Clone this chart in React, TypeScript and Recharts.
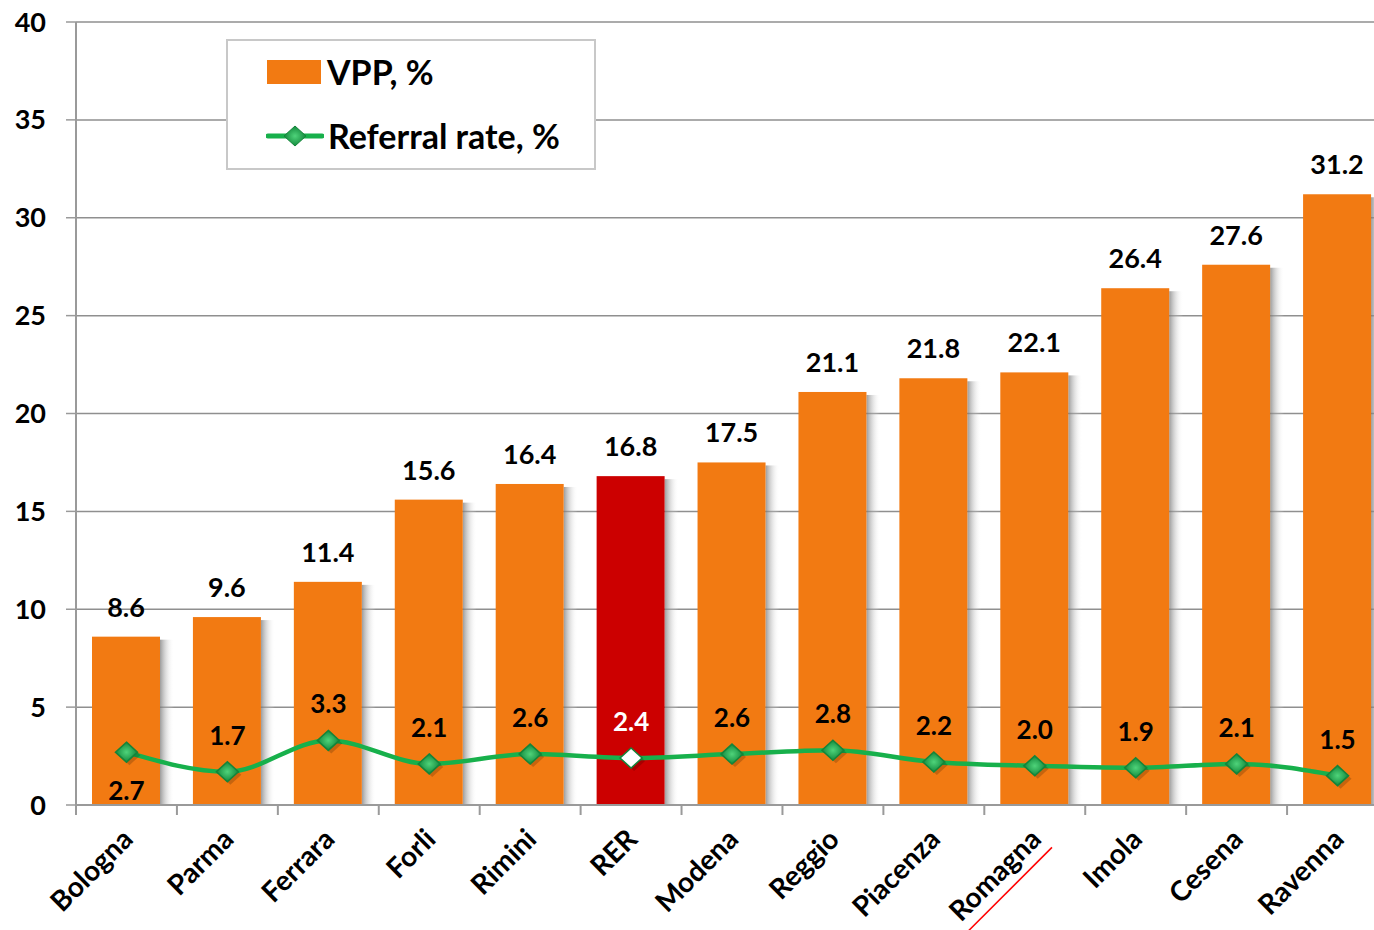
import React from 'react'
import { ComposedChart, Bar, Line, XAxis, YAxis, CartesianGrid, Legend, LabelList, Cell } from 'recharts'

const categories = ['Bologna', 'Parma', 'Ferrara', 'Forli', 'Rimini', 'RER', 'Modena', 'Reggio', 'Piacenza', 'Romagna', 'Imola', 'Cesena', 'Ravenna']
const vpp = [8.6, 9.6, 11.4, 15.6, 16.4, 16.8, 17.5, 21.1, 21.8, 22.1, 26.4, 27.6, 31.2]
const referral = [2.7, 1.7, 3.3, 2.1, 2.6, 2.4, 2.6, 2.8, 2.2, 2.0, 1.9, 2.1, 1.5]
const yTicks = [0, 5, 10, 15, 20, 25, 30, 35, 40]
const highlight = 'RER'

const data = categories.map((name, i) => ({ name, vpp: vpp[i], referral: referral[i] }))

// the original picture is cut off on the right, so the chart is a bit wider than the frame
const W = 1388
const VIEW_W = 1374
const H = 930
const LEFT = 76
const band = (W - LEFT) / categories.length
const FONT = 'Lato, "Open Sans", sans-serif'
const ORANGE = '#F27A12'
const RED = '#CC0000'
const GREEN = '#17B04B'

const XTick = (props: any) => {
  const { x, y, payload } = props
  return (
    <g transform={`translate(${x},${y})`}>
      <line x1={-band / 2} x2={-band / 2} y1={0} y2={10} stroke="#9a9a9a" strokeWidth={2} />
      <g transform="translate(8,36) rotate(-45)">
        <text textAnchor="end" fontFamily={FONT} fontWeight={700} fontSize={28} fill="#000">
          {payload.value}
        </text>
        {payload.value === 'Romagna' && <line x1={-135} x2={2} y1={11} y2={11} stroke="#ff0000" strokeWidth={1.5} />}
      </g>
    </g>
  )
}

const BarShape = (props: any) => {
  const { x, y, width, height, fill } = props
  return (
    <g>
      <rect x={x + width} y={y + 3} width={14} height={height - 3} fill="url(#barShadow)" />
      <rect x={x} y={y} width={width} height={height} fill={fill} />
    </g>
  )
}

const Diamond = ({ cx, cy, white }: { cx: number; cy: number; white?: boolean }) => (
  <g>
    <path d={`M${cx + 3},${cy - 7} l11,10 l-11,10 l-11,-10 z`} fill="#000" opacity={0.18} />
    <path d={`M${cx},${cy - 10} l11,10 l-11,10 l-11,-10 z`} fill={white ? '#ffffff' : 'url(#diamondFill)'} stroke="#14843a" strokeWidth={1.5} />
  </g>
)

const Dot = (props: any) => {
  const { cx, cy, payload } = props
  if (cx == null || cy == null) return null
  return <Diamond key={payload.name} cx={cx} cy={cy} white={payload.name === highlight} />
}

const LineLabel = (props: any) => {
  const { x, y, value, index } = props
  const below = index === 0
  const isHi = categories[index] === highlight
  return (
    <text
      x={x}
      y={below ? y + 48 : y - 27}
      textAnchor="middle"
      fontFamily={FONT}
      fontWeight={700}
      fontSize={26}
      fill={isHi ? '#ffffff' : '#000'}
    >
      {Number(value).toFixed(1)}
    </text>
  )
}

const LegendBox = () => (
  <div
    style={{
      width: 370,
      height: 131,
      boxSizing: 'border-box',
      border: '2px solid #c8c8c8',
      background: '#fff',
      fontFamily: FONT,
      fontWeight: 700,
      fontSize: 34,
      color: '#000',
      position: 'relative',
    }}
  >
    <div style={{ position: 'absolute', left: 39, top: 10, display: 'flex', alignItems: 'center' }}>
      <div style={{ width: 54, height: 24, background: ORANGE, marginRight: 6 }} />
      <span>VPP, %</span>
    </div>
    <div style={{ position: 'absolute', left: 38, top: 74, display: 'flex', alignItems: 'center' }}>
      <svg width={58} height={26} style={{ marginRight: 4 }}>
        <line x1={2} x2={56} y1={13} y2={13} stroke={GREEN} strokeWidth={5} strokeLinecap="round" />
        <path d="M29,3 l11,10 l-11,10 l-11,-10 z" fill="url(#legendDiamond)" stroke="#14843a" strokeWidth={1} />
        <defs>
          <radialGradient id="legendDiamond">
            <stop offset="0%" stopColor="#4fd37a" />
            <stop offset="100%" stopColor="#138a3d" />
          </radialGradient>
        </defs>
      </svg>
      <span>Referral rate, %</span>
    </div>
  </div>
)

export default function App() {
  return (
    <div style={{ position: 'absolute', left: 0, top: 0, width: VIEW_W, height: H, overflow: 'hidden', background: '#fff' }}>
      <ComposedChart width={W} height={H} data={data} margin={{ top: 22, right: 0, left: 0, bottom: 0 }}>
        <defs>
          <linearGradient id="barShadow" x1="0" y1="0" x2="1" y2="0">
            <stop offset="0%" stopColor="#7a7a7a" stopOpacity={0.75} />
            <stop offset="100%" stopColor="#ffffff" stopOpacity={0} />
          </linearGradient>
          <radialGradient id="diamondFill">
            <stop offset="0%" stopColor="#4fd37a" />
            <stop offset="100%" stopColor="#138a3d" />
          </radialGradient>
        </defs>
        <CartesianGrid vertical={false} stroke="#8f8f8f" strokeWidth={1.5} />
        <XAxis
          dataKey="name"
          interval={0}
          height={125}
          tickSize={0}
          tickMargin={0}
          tickLine={false}
          axisLine={{ stroke: '#9a9a9a', strokeWidth: 2 }}
          tick={<XTick />}
        />
        <YAxis
          domain={[0, 40]}
          ticks={yTicks}
          width={LEFT}
          tickSize={10}
          tickMargin={20}
          interval={0}
          axisLine={{ stroke: '#9a9a9a', strokeWidth: 2 }}
          tickLine={{ stroke: '#9a9a9a', strokeWidth: 1.5 }}
          tick={{ fontFamily: FONT, fontWeight: 700, fontSize: 27, fill: '#000' }}
        />
        <Legend
          layout="vertical"
          align="center"
          verticalAlign="middle"
          content={() => <LegendBox />}
          wrapperStyle={{ left: 226, top: 39, width: 370, height: 131 }}
        />
        <Bar dataKey="vpp" name="VPP, %" barSize={68} fill={ORANGE} shape={<BarShape />} isAnimationActive={false}>
          {data.map((d) => (
            <Cell key={d.name} fill={d.name === highlight ? RED : ORANGE} />
          ))}
          <LabelList
            dataKey="vpp"
            position="top"
            offset={20}
            formatter={(v: any) => Number(v).toFixed(1)}
            style={{ fontFamily: FONT, fontWeight: 700, fontSize: 27, fill: '#000' }}
          />
        </Bar>
        <Line
          type="monotone"
          dataKey="referral"
          name="Referral rate, %"
          stroke={GREEN}
          strokeWidth={4.5}
          dot={<Dot />}
          activeDot={false}
          isAnimationActive={false}
        >
          <LabelList dataKey="referral" content={<LineLabel />} />
        </Line>
      </ComposedChart>
    </div>
  )
}
